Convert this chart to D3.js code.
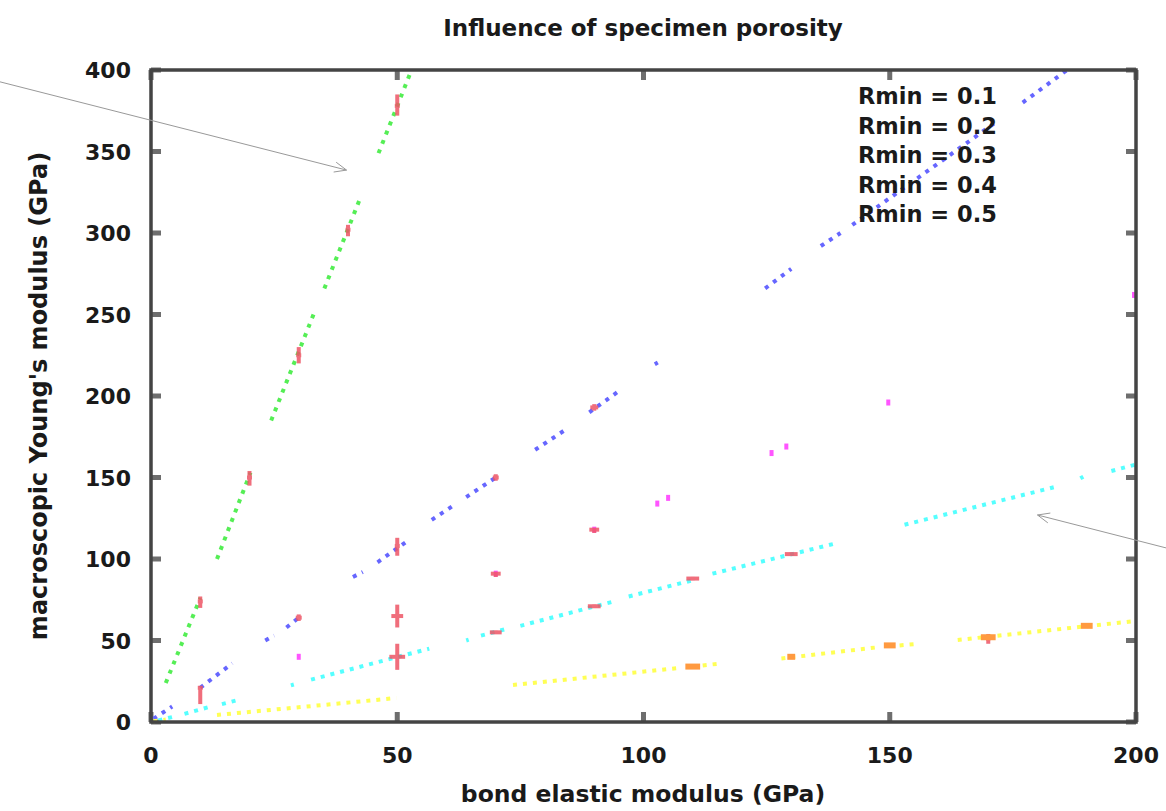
<!DOCTYPE html>
<html>
<head>
<meta charset="utf-8">
<style>
  body { margin: 0; background: #fff; }
  text { font-family: "DejaVu Sans", sans-serif; font-weight: bold; fill: #1a1a1a; }
  .frame { fill: none; stroke: #444; stroke-width: 3.5px; }
  .tick { stroke: #555; stroke-width: 5px; opacity: .85; }
  .arrow { stroke: #999; stroke-width: 1px; fill: none; }
</style>
</head>
<body>
<div class="chart"></div>
<script src="https://d3js.org/d3.v7.min.js"></script>
<script>
  // tick values
  const xTicks = [0, 50, 100, 150, 200];
  const yTicks = [0, 50, 100, 150, 200, 250, 300, 350, 400];
  const legendLabels = ["Rmin = 0.1", "Rmin = 0.2", "Rmin = 0.3", "Rmin = 0.4", "Rmin = 0.5"];

  // dotted simulation curves, read as runs [x0, y0, x1, y1] (GPa)
  const greenRuns = [[3, 24, 10, 76], [13.4, 100, 20.2, 153], [24.4, 185, 33.4, 253],
                     [35.2, 266, 42.7, 323], [46.2, 349, 52.9, 400]];
  const blueRuns = [[0.5, 2, 4.3, 9.5], [10, 21, 16.5, 36], [23.2, 50, 25, 53], [27.5, 58, 30, 64],
                    [41, 89, 43, 92], [46, 98, 52.5, 112], [57, 124, 62, 134], [64, 138, 70, 150],
                    [78, 167, 84, 179], [89, 190, 95, 203], [102.3, 219.5, 102.9, 220.5],
                    [124.7, 266, 130, 278], [136, 292, 140, 300], [142.4, 305, 172, 369],
                    [177, 380, 186, 400]];
  const cyanRuns = [[1.5, 1, 4.3, 3], [6.8, 5, 11.8, 9.2], [14.4, 11, 18.3, 14], [28.4, 22.5, 29, 23],
                    [32.5, 26, 56.5, 45], [64, 50, 64.5, 50.5], [67, 53, 72, 57], [75, 59, 94, 74],
                    [97, 77, 110, 87], [114, 91, 139.6, 110], [153, 121, 183.3, 144],
                    [188.7, 149.5, 189.3, 150.5], [195, 154, 200, 158]];
  const yellowRuns = [[0.5, 0.5, 3, 1.5], [13.4, 4.3, 49.8, 14.7], [73.5, 22.7, 106.8, 33],
                      [110, 34, 116, 36], [128, 39, 148, 46], [152, 47, 156, 48], [163.8, 50.3, 200, 62]];

  // isolated magenta points [x, y]
  const magentaPoints = [[30, 40], [70, 91], [90, 118], [102.8, 134], [105, 137.5],
                         [126, 165], [129, 169], [149.7, 196], [199.6, 262]];

  // experimental marks [x, y, yLow, yHigh, halfWidthX]
  const redMarks = [[10, 74, 70, 77, 0.5], [10, 21, 11, 22, 0.5], [20, 150, 145, 154, 0.5],
                    [30, 225, 220, 230, 0.5], [30, 64, 62, 66, 0.6], [40, 302, 298, 305, 0.5],
                    [50, 378, 372, 385, 0.5], [50, 108, 102, 113, 0.5], [50, 65, 58, 72, 1.2],
                    [50, 40, 32, 48, 1.6], [70, 150, 148, 152, 0.6], [70, 91, 89, 92, 1],
                    [70, 55, 54, 56, 1.2], [90, 193, 191, 195, 0.8], [90, 118, 116, 119, 1],
                    [90, 71, 70, 72, 1.3], [110, 88, 87, 89, 1.3], [130, 103, 102, 104, 1.3],
                    [170, 51, 48, 54, 0.4]];
  const orangeMarks = [[110, 34, 1.5], [130, 40, 0.8], [150, 47, 1.2], [170, 52, 1.5], [190, 59, 1.2]];

  // annotation arrows [fromX, fromY, toX, toY]
  const arrows = [[-31, 393, 39.7, 338.6], [206.5, 106.5, 180, 127]];

  const W = 1166, H = 811;
  const margin = { left: 151, right: 30, top: 70, bottom: 89 };

  const svg = d3.select(".chart").append("svg")
      .attr("width", W)
      .attr("height", H);

  const x = d3.scaleLinear().domain([0, 200]).range([margin.left, W - margin.right]);
  const y = d3.scaleLinear().domain([0, 400]).range([H - margin.bottom, margin.top]);

  // title
  svg.append("text")
      .attr("x", 643).attr("y", 36)
      .attr("text-anchor", "middle")
      .style("font-size", "23px")
      .text("Influence of specimen porosity");

  // ticks (mirrored, inward)
  const tl = 10;
  svg.append("g").selectAll("line.xb").data(xTicks).enter().append("line")
      .attr("class", "tick")
      .attr("x1", d => x(d)).attr("x2", d => x(d))
      .attr("y1", y(0)).attr("y2", y(0) - tl);
  svg.append("g").selectAll("line.xt").data(xTicks).enter().append("line")
      .attr("class", "tick")
      .attr("x1", d => x(d)).attr("x2", d => x(d))
      .attr("y1", y(400)).attr("y2", y(400) + tl);
  svg.append("g").selectAll("line.yl").data(yTicks).enter().append("line")
      .attr("class", "tick")
      .attr("x1", x(0)).attr("x2", x(0) + tl)
      .attr("y1", d => y(d)).attr("y2", d => y(d));
  svg.append("g").selectAll("line.yr").data(yTicks).enter().append("line")
      .attr("class", "tick")
      .attr("x1", x(200)).attr("x2", x(200) - tl)
      .attr("y1", d => y(d)).attr("y2", d => y(d));

  // tick labels
  svg.append("g").selectAll("text").data(xTicks).enter().append("text")
      .attr("x", d => x(d)).attr("y", 763)
      .attr("text-anchor", "middle")
      .style("font-size", "22px")
      .text(d => d);
  svg.append("g").selectAll("text").data(yTicks).enter().append("text")
      .attr("x", 131).attr("y", d => y(d) + 8)
      .attr("text-anchor", "end")
      .style("font-size", "22px")
      .text(d => d);

  // axis titles
  svg.append("text")
      .attr("x", 643).attr("y", 802)
      .attr("text-anchor", "middle")
      .style("font-size", "23.5px")
      .text("bond elastic modulus (GPa)");
  svg.append("text")
      .attr("transform", "translate(47," + y(200) + ") rotate(-90)")
      .attr("text-anchor", "middle")
      .style("font-size", "24px")
      .text("macroscopic Young's modulus (GPa)");

  // dotted curves
  const plot = svg.append("g");
  const series = [
    { runs: greenRuns, color: "#55ee55" },
    { runs: blueRuns, color: "#6666ff" },
    { runs: cyanRuns, color: "#55ffff" },
    { runs: yellowRuns, color: "#ffff55" }
  ];
  series.forEach(s => {
    plot.append("g").selectAll("line").data(s.runs).enter().append("line")
        .attr("x1", d => x(d[0])).attr("y1", d => y(d[1]))
        .attr("x2", d => x(d[2])).attr("y2", d => y(d[3]))
        .attr("stroke", s.color)
        .attr("stroke-width", 4)
        .attr("stroke-dasharray", "4,6")
        .attr("stroke-linecap", "butt");
  });

  plot.append("g").selectAll("rect").data(magentaPoints).enter().append("rect")
      .attr("x", d => x(d[0]) - 2).attr("y", d => y(d[1]) - 3)
      .attr("width", 4).attr("height", 6)
      .attr("fill", "#ff55ff");

  // experimental marks
  const marks = plot.append("g").selectAll("g").data(redMarks).enter().append("g")
      .attr("fill", "#ee5566").attr("opacity", 0.85);
  marks.append("rect")
      .attr("x", d => x(d[0]) - 2).attr("y", d => y(d[3]))
      .attr("width", 4).attr("height", d => y(d[2]) - y(d[3]));
  marks.append("rect")
      .attr("x", d => x(d[0] - d[4])).attr("y", d => y(d[1]) - 2)
      .attr("width", d => x(d[0] + d[4]) - x(d[0] - d[4])).attr("height", 4);

  plot.append("g").selectAll("rect").data(orangeMarks).enter().append("rect")
      .attr("x", d => x(d[0] - d[2])).attr("y", d => y(d[1]) - 3)
      .attr("width", d => x(d[0] + d[2]) - x(d[0] - d[2])).attr("height", 6)
      .attr("fill", "#ff9a40");

  // frame
  svg.append("rect")
      .attr("class", "frame")
      .attr("x", x(0)).attr("y", y(400))
      .attr("width", x(200) - x(0)).attr("height", y(0) - y(400));

  // legend (text only)
  svg.append("g").selectAll("text").data(legendLabels).enter().append("text")
      .attr("x", 858).attr("y", (d, i) => 104 + i * 29.5)
      .style("font-size", "22.5px")
      .text(d => d);

  // arrows
  const ag = svg.append("g");
  arrows.forEach(a => {
    const x1 = x(a[0]), y1 = y(a[1]), x2 = x(a[2]), y2 = y(a[3]);
    const ang = Math.atan2(y2 - y1, x2 - x1);
    const len = 13, spread = 0.4;
    ag.append("line").attr("class", "arrow")
        .attr("x1", x1).attr("y1", y1).attr("x2", x2).attr("y2", y2);
    ag.append("path").attr("class", "arrow")
        .attr("d", "M" + (x2 - len * Math.cos(ang - spread)) + "," + (y2 - len * Math.sin(ang - spread)) +
                   "L" + x2 + "," + y2 +
                   "L" + (x2 - len * Math.cos(ang + spread)) + "," + (y2 - len * Math.sin(ang + spread)));
  });
</script>
</body>
</html>
